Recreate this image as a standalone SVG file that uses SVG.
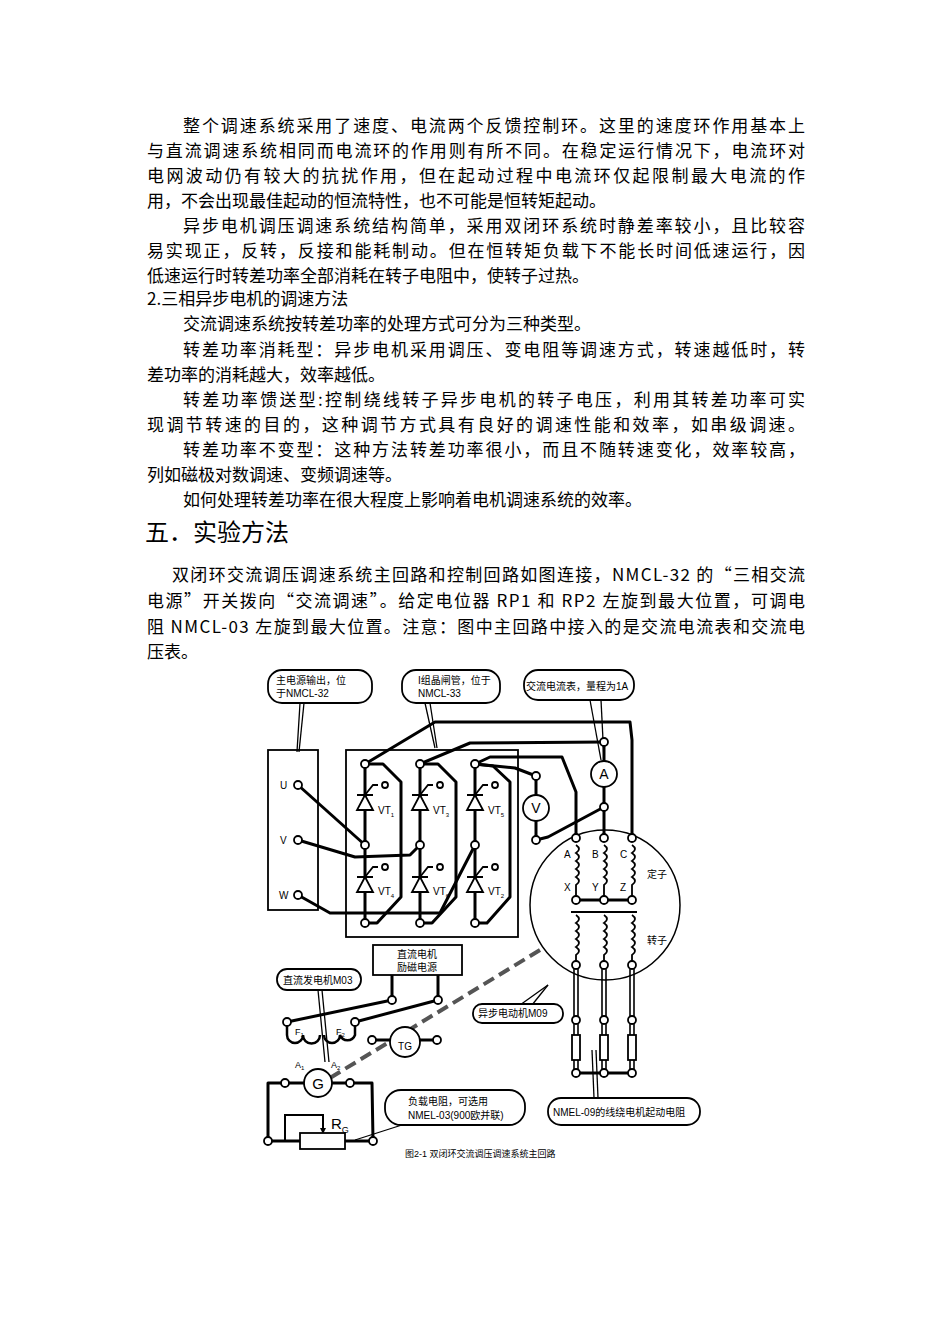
<svg xmlns="http://www.w3.org/2000/svg" width="950" height="1344" viewBox="0 0 950 1344">
<style>
.p{font-family:"Noto Sans CJK SC","Noto Sans",sans-serif;font-size:17px;fill:#000}
.d{font-family:"Liberation Sans","Noto Sans CJK SC",sans-serif;font-size:10px;fill:#000}
.w{fill:none;stroke:#000;stroke-width:3;stroke-linejoin:round}
.t{fill:none;stroke:#000;stroke-width:1.3}
.bx{fill:#fff;stroke:#000;stroke-width:1.8}
.ob{fill:none;stroke:#000;stroke-width:1.8}
.tm{fill:#fff;stroke:#000;stroke-width:1.8}
</style>
<rect width="950" height="1344" fill="#fff"/>
<g id="text">
<text class="p" x="183" y="132" textLength="622">整个调速系统采用了速度、电流两个反馈控制环。这里的速度环作用基本上</text>
<text class="p" x="147" y="157" textLength="658">与直流调速系统相同而电流环的作用则有所不同。在稳定运行情况下，电流环对</text>
<text class="p" x="147" y="182" textLength="658">电网波动仍有较大的抗扰作用，但在起动过程中电流环仅起限制最大电流的作</text>
<text class="p" x="147" y="207">用，不会出现最佳起动的恒流特性，也不可能是恒转矩起动。</text>
<text class="p" x="183" y="232" textLength="622">异步电机调压调速系统结构简单，采用双闭环系统时静差率较小，且比较容</text>
<text class="p" x="147" y="257" textLength="658">易实现正，反转，反接和能耗制动。但在恒转矩负载下不能长时间低速运行，因</text>
<text class="p" x="147" y="282">低速运行时转差功率全部消耗在转子电阻中，使转子过热。</text>
<text class="p" x="147" y="305">2.三相异步电机的调速方法</text>
<text class="p" x="183" y="330">交流调速系统按转差功率的处理方式可分为三种类型。</text>
<text class="p" x="183" y="356" textLength="622">转差功率消耗型：异步电机采用调压、变电阻等调速方式，转速越低时，转</text>
<text class="p" x="147" y="381">差功率的消耗越大，效率越低。</text>
<text class="p" x="183" y="406" textLength="622">转差功率馈送型:控制绕线转子异步电机的转子电压，利用其转差功率可实</text>
<text class="p" x="147" y="431" textLength="658">现调节转速的目的，这种调节方式具有良好的调速性能和效率，如串级调速。</text>
<text class="p" x="183" y="456" textLength="622">转差功率不变型：这种方法转差功率很小，而且不随转速变化，效率较高，</text>
<text class="p" x="147" y="481">列如磁极对数调速、变频调速等。</text>
<text class="p" x="183" y="506">如何处理转差功率在很大程度上影响着电机调速系统的效率。</text>
<text class="p" x="145" y="541" style="font-size:24px">五．实验方法</text>
<text class="p" x="172" y="581" textLength="633">双闭环交流调压调速系统主回路和控制回路如图连接，NMCL-32 的“三相交流</text>
<text class="p" x="147" y="607" textLength="658">电源”开关拨向“交流调速”。给定电位器 RP1 和 RP2 左旋到最大位置，可调电</text>
<text class="p" x="147" y="633" textLength="658">阻 NMCL-03 左旋到最大位置。注意：图中主回路中接入的是交流电流表和交流电</text>
<text class="p" x="147" y="658">压表。</text>
</g>
<g id="n_power">
<rect class="ob" x="268" y="750" width="50" height="160"/>
<text class="d" x="280" y="789">U</text><text class="d" x="280" y="844">V</text><text class="d" x="279" y="899">W</text>
</g>
<g id="n_thyristor_box">
<rect class="ob" x="346" y="750" width="172" height="187"/>
</g>
<g id="connectors">
<line x1="300" y1="703" x2="297" y2="752" class="t"/>
<line x1="304" y1="703" x2="299" y2="752" class="t"/>
<line x1="425" y1="703" x2="435" y2="748" class="t"/>
<line x1="430" y1="703" x2="437" y2="748" class="t"/>
<line x1="590" y1="700" x2="601" y2="760" class="t"/>
<line x1="601" y1="700" x2="604" y2="760" class="t"/>
<polyline class="w" points="298,785 365,845"/>
<polyline class="w" points="298,840 355,857 410,855 420,845"/>
<polyline class="w" points="298,895 330,913 440,913 475,845"/>
<line class="w" x1="365" y1="764" x2="365" y2="923"/>
<line class="w" x1="420" y1="764" x2="420" y2="923"/>
<line class="w" x1="475" y1="764" x2="475" y2="923"/>
<polyline class="w" points="365,764 383,764 401,782 401,897 377,923 365,923"/>
<polyline class="w" points="420,764 438,764 456,782 456,897 432,923 420,923"/>
<polyline class="w" points="475,764 493,766 510,782 510,897 487,923 475,923"/>
<polyline class="w" points="365,764 435,722 630,722 632,740 632,838"/>
<polyline class="w" points="420,764 470,743 604,742"/>
<polyline class="w" points="475,764 490,757 562,757 576,792 576,838"/>
<polyline class="w" points="475,764 515,768 536,776"/>
<line class="w" x1="536" y1="776" x2="536" y2="840"/>
<polyline class="w" points="536,840 548,837 604,807"/>
<line class="w" x1="604" y1="742" x2="604" y2="838"/>
<line class="w" x1="576" y1="900" x2="632" y2="900"/>
<line class="w" x1="392" y1="975" x2="392" y2="1000"/>
<line class="w" x1="438" y1="975" x2="438" y2="1000"/>
<line class="w" x1="287" y1="1022" x2="392" y2="1000"/>
<line class="w" x1="355" y1="1022" x2="438" y2="1000"/>
<line class="w" x1="372" y1="1040" x2="437" y2="1040"/>
<line x1="318" y1="990" x2="325" y2="1062" class="t"/>
<line x1="322" y1="990" x2="329" y2="1062" class="t"/>
<polyline class="w" points="285,1083 268,1083 268,1140"/>
<polyline class="w" points="350,1083 372,1083 373,1140"/>
<line class="w" x1="285" y1="1083" x2="350" y2="1083"/>
<polyline class="w" points="268,1141 300,1141"/>
<polyline class="w" points="345,1141 373,1141"/>
<polyline class="t" style="stroke-width:2" points="285,1141 285,1115 323,1115 323,1130"/>
<polygon points="320,1128 326,1128 323,1134"/>
<line x1="355" y1="1140" x2="405" y2="1124" class="t"/>
<line x1="540" y1="950" x2="330" y2="1078" stroke="#555" stroke-width="4" stroke-dasharray="12,6"/>
<line x1="548" y1="985" x2="520" y2="1005" class="t"/>
<line x1="548" y1="985" x2="532" y2="1005" class="t"/>
<g stroke="#000" stroke-width="1.6">
<line x1="574" y1="965" x2="574" y2="1073"/><line x1="578" y1="965" x2="578" y2="1073"/>
<line x1="602" y1="965" x2="602" y2="1073"/><line x1="606" y1="965" x2="606" y2="1073"/>
<line x1="630" y1="965" x2="630" y2="1073"/><line x1="634" y1="965" x2="634" y2="1073"/>
</g>
<line class="w" x1="576" y1="1073" x2="632" y2="1073"/>
<line x1="592" y1="1050" x2="594" y2="1098" class="t"/>
<line x1="596" y1="1050" x2="598" y2="1098" class="t"/>
</g>
<g id="n_thyristors">
<g fill="#fff" stroke="#000" stroke-width="1.8">
<path d="M357,810 L373,810 L365,795 Z M357,795 L373,795 M365,795 L373,785 L378,785"/>
<path d="M412,810 L428,810 L420,795 Z M412,795 L428,795 M420,795 L428,785 L433,785"/>
<path d="M467,810 L483,810 L475,795 Z M467,795 L483,795 M475,795 L483,785 L488,785"/>
<path d="M357,892 L373,892 L365,877 Z M357,877 L373,877 M365,877 L373,867 L378,867"/>
<path d="M412,892 L428,892 L420,877 Z M412,877 L428,877 M420,877 L428,867 L433,867"/>
<path d="M467,892 L483,892 L475,877 Z M467,877 L483,877 M475,877 L483,867 L488,867"/>
</g>
<text class="d" x="378" y="814">VT<tspan font-size="6" dy="3">1</tspan></text>
<text class="d" x="433" y="814">VT<tspan font-size="6" dy="3">3</tspan></text>
<text class="d" x="488" y="814">VT<tspan font-size="6" dy="3">5</tspan></text>
<text class="d" x="378" y="895">VT<tspan font-size="6" dy="3">4</tspan></text>
<text class="d" x="433" y="895">VT<tspan font-size="6" dy="3">6</tspan></text>
<text class="d" x="488" y="895">VT<tspan font-size="6" dy="3">2</tspan></text>
</g>
<g id="n_motor">
<circle cx="605" cy="905" r="75" fill="none" stroke="#000" stroke-width="1.5"/>
<g fill="none" stroke="#000" stroke-width="1.8">
<path d="M576,845 q6,4 0,8 q6,4 0,8 q6,4 0,8 q6,4 0,8 q6,4 0,8 L576,900"/>
<path d="M604,845 q6,4 0,8 q6,4 0,8 q6,4 0,8 q6,4 0,8 q6,4 0,8 L604,900"/>
<path d="M632,845 q6,4 0,8 q6,4 0,8 q6,4 0,8 q6,4 0,8 q6,4 0,8 L632,900"/>
<path d="M576,915 q6,4 0,8 q6,4 0,8 q6,4 0,8 q6,4 0,8 q6,4 0,8 L576,965"/>
<path d="M604,915 q6,4 0,8 q6,4 0,8 q6,4 0,8 q6,4 0,8 q6,4 0,8 L604,965"/>
<path d="M632,915 q6,4 0,8 q6,4 0,8 q6,4 0,8 q6,4 0,8 q6,4 0,8 L632,965"/>
<path d="M571,912 h66"/>
</g>
<text class="d" x="564" y="858">A</text><text class="d" x="592" y="858">B</text><text class="d" x="620" y="858">C</text>
<text class="d" x="564" y="891">X</text><text class="d" x="592" y="891">Y</text><text class="d" x="620" y="891">Z</text>
<text class="d" x="647" y="878">定子</text><text class="d" x="647" y="944">转子</text>
<rect class="bx" x="572" y="1035" width="8" height="25"/>
<rect class="bx" x="600" y="1035" width="8" height="25"/>
<rect class="bx" x="628" y="1035" width="8" height="25"/>
</g>
<g id="n_ammeter"><circle class="bx" cx="604" cy="774" r="13"/><text class="d" x="604" y="779" text-anchor="middle" style="font-size:14px">A</text></g>
<g id="n_voltmeter"><circle class="bx" cx="536" cy="808" r="13"/><text class="d" x="536" y="813" text-anchor="middle" style="font-size:14px">V</text></g>
<g id="n_exciter"><rect class="bx" x="373" y="945" width="89" height="30"/>
<text class="d" x="417" y="958" text-anchor="middle">直流电机</text><text class="d" x="417" y="971" text-anchor="middle">励磁电源</text></g>
<g id="n_field">
<path d="M287,1022 L287,1035 a8,8 0 0 0 16,0 a8,8 0 0 0 17,0 M324,1035 a8,8 0 0 0 16,0 a8,8 0 0 0 15,0 L355,1022" fill="none" stroke="#000" stroke-width="2.5"/>
<text class="d" x="295" y="1035" style="font-size:9px">F<tspan font-size="6" dy="2">1</tspan></text>
<text class="d" x="336" y="1035" style="font-size:9px">F<tspan font-size="6" dy="2">2</tspan></text>
<text class="d" x="295" y="1068" style="font-size:9px">A<tspan font-size="6" dy="2">1</tspan></text>
<text class="d" x="331" y="1068" style="font-size:9px">A<tspan font-size="6" dy="2">2</tspan></text>
</g>
<g id="n_tg"><circle class="bx" cx="405" cy="1042" r="15"/><text class="d" x="405" y="1050" text-anchor="middle">TG</text></g>
<g id="n_g"><circle class="bx" cx="318" cy="1083" r="14"/><text class="d" x="318" y="1089" text-anchor="middle" style="font-size:15px">G</text></g>
<g id="n_rg"><rect class="bx" x="300" y="1133" width="45" height="16"/>
<text class="d" x="331" y="1129" style="font-size:15px">R<tspan font-size="9" dy="4">G</tspan></text></g>
<g id="terminals">
<g class="tm">
<circle cx="298" cy="785" r="4"/><circle cx="298" cy="840" r="4"/><circle cx="298" cy="895" r="4"/>
<circle cx="365" cy="764" r="4"/><circle cx="420" cy="764" r="4"/><circle cx="475" cy="764" r="4"/>
<circle cx="365" cy="845" r="4"/><circle cx="420" cy="845" r="4"/><circle cx="475" cy="845" r="4"/>
<circle cx="365" cy="923" r="4"/><circle cx="420" cy="923" r="4"/><circle cx="475" cy="923" r="4"/>
<circle cx="385" cy="785" r="3"/><circle cx="440" cy="785" r="3"/><circle cx="495" cy="785" r="3"/>
<circle cx="385" cy="867" r="3"/><circle cx="440" cy="867" r="3"/><circle cx="495" cy="867" r="3"/>
<circle cx="536" cy="776" r="4"/><circle cx="536" cy="840" r="4"/>
<circle cx="604" cy="742" r="4"/><circle cx="604" cy="807" r="4"/>
<circle cx="576" cy="838" r="4"/><circle cx="604" cy="838" r="4"/><circle cx="632" cy="838" r="4"/>
<circle cx="576" cy="900" r="4"/><circle cx="604" cy="900" r="4"/><circle cx="632" cy="900" r="4"/>
<circle cx="576" cy="965" r="4"/><circle cx="604" cy="965" r="4"/><circle cx="632" cy="965" r="4"/>
<circle cx="576" cy="1020" r="4"/><circle cx="604" cy="1020" r="4"/><circle cx="632" cy="1020" r="4"/>
<circle cx="576" cy="1073" r="4"/><circle cx="604" cy="1073" r="4"/><circle cx="632" cy="1073" r="4"/>
<circle cx="392" cy="1000" r="4"/><circle cx="438" cy="1000" r="4"/>
<circle cx="287" cy="1022" r="4"/><circle cx="355" cy="1022" r="4"/>
<circle cx="372" cy="1040" r="4"/><circle cx="437" cy="1040" r="4"/>
<circle cx="285" cy="1083" r="4"/><circle cx="350" cy="1083" r="4"/>
<circle cx="268" cy="1141" r="4"/><circle cx="373" cy="1141" r="4"/>
</g></g>
<g id="callouts">
<rect class="bx" x="268" y="670" width="104" height="33" rx="14"/>
<text class="d" x="276" y="684">主电源输出，位</text><text class="d" x="276" y="697">于NMCL-32</text>
<rect class="bx" x="402" y="670" width="98" height="33" rx="14"/>
<text class="d" x="418" y="684">I组晶闸管，位于</text><text class="d" x="418" y="697">NMCL-33</text>
<rect class="bx" x="524" y="670" width="110" height="30" rx="14"/>
<text class="d" x="526" y="690">交流电流表，量程为1A</text>
<rect class="bx" x="277" y="969" width="84" height="21" rx="10"/>
<text class="d" x="283" y="984">直流发电机M03</text>
<rect class="bx" x="473" y="1004" width="90" height="19" rx="9"/>
<text class="d" x="478" y="1017">异步电动机M09</text>
<rect class="bx" x="385" y="1090" width="140" height="35" rx="16"/>
<text class="d" x="408" y="1105">负载电阻，可选用</text><text class="d" x="408" y="1119">NMEL-03(900欧并联)</text>
<rect class="bx" x="548" y="1098" width="152" height="27" rx="13"/>
<text class="d" x="553" y="1116">NMEL-09的线绕电机起动电阻</text>
<text class="d" x="405" y="1157" style="font-size:9px">图2-1  双闭环交流调压调速系统主回路</text>
</g>
</svg>
